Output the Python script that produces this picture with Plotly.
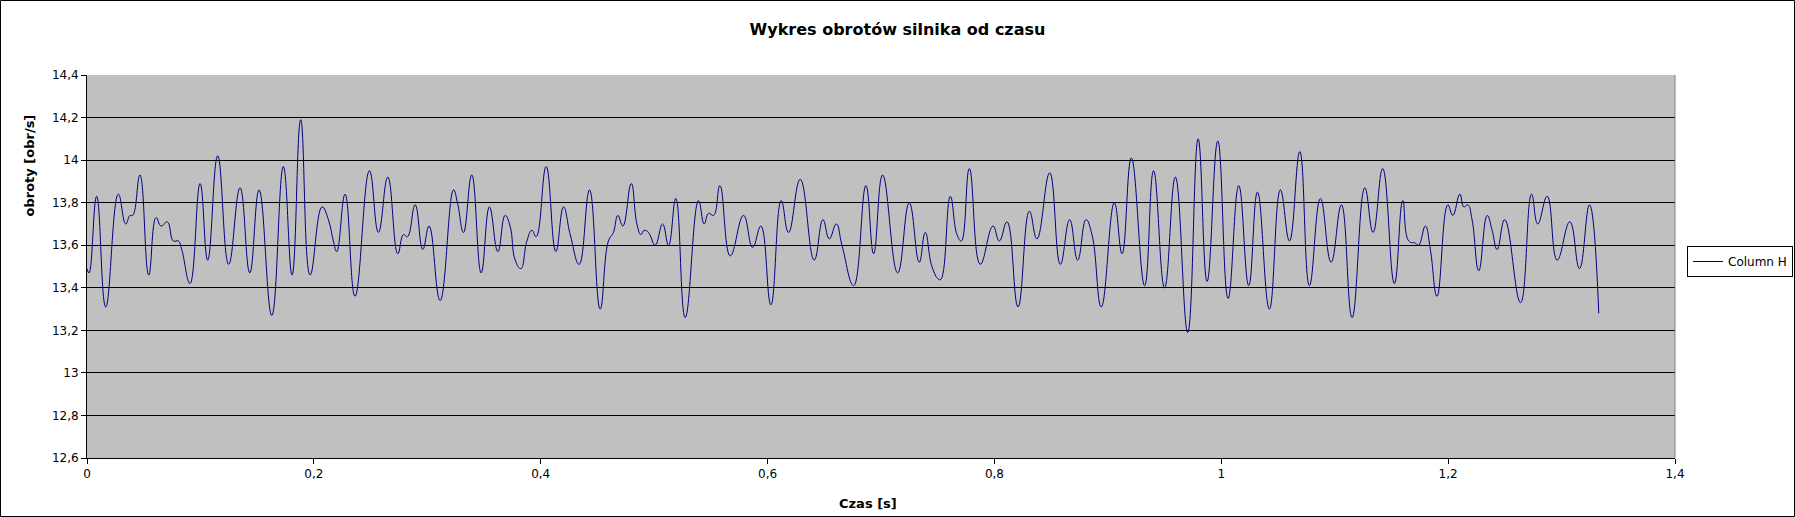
import plotly.graph_objects as go

# Time [s] and speed [obr/s]
czas = [
    0.0000, 0.0018, 0.0085, 0.0165, 0.0276, 0.0341, 0.0379, 0.0403, 0.0467, 0.0544,
    0.0609, 0.0653, 0.0708, 0.0761, 0.0805, 0.0835, 0.0908, 0.0997, 0.1064, 0.1152,
    0.1249, 0.1349, 0.1435, 0.1517, 0.1629, 0.1731, 0.1808, 0.1884, 0.1967, 0.2072,
    0.2128, 0.2172, 0.2202, 0.2275, 0.2363,
    0.2490, 0.2569, 0.2652, 0.2740, 0.2790, 0.2825, 0.2893, 0.2960, 0.3016, 0.3113,
    0.3231, 0.3266, 0.3319, 0.3392, 0.3475, 0.3548, 0.3622, 0.3686, 0.3730, 0.3775,
    0.3825, 0.3878, 0.3922, 0.3960, 0.4048, 0.4133, 0.4201, 0.4260, 0.4339, 0.4430,
    0.4524, 0.4597, 0.4641, 0.4680, 0.4724,
    0.4798, 0.4848, 0.4883, 0.4912, 0.4950, 0.5009, 0.5074, 0.5127, 0.5191, 0.5274,
    0.5391, 0.5441, 0.5480, 0.5524, 0.5580, 0.5671, 0.5788, 0.5868, 0.5941, 0.6029,
    0.6120, 0.6185, 0.6288, 0.6411, 0.6488, 0.6544, 0.6606, 0.6656, 0.6759, 0.6867,
    0.6935, 0.7014, 0.7147,
    0.7249, 0.7337, 0.7390, 0.7449, 0.7508, 0.7529, 0.7611, 0.7670, 0.7708, 0.7779,
    0.7875, 0.7987, 0.8043, 0.8111, 0.8208, 0.8308, 0.8375, 0.8487, 0.8581, 0.8663,
    0.8734, 0.8807, 0.8860, 0.8942, 0.9057, 0.9125, 0.9207, 0.9324, 0.9403, 0.9500,
    0.9595, 0.9704, 0.9796, 0.9875, 0.9969, 1.0060, 1.0154, 1.0242, 1.0319, 1.0424,
    1.0521, 1.0601, 1.0692, 1.0777, 1.0874, 1.0968, 1.1059, 1.1153, 1.1265, 1.1338,
    1.1423, 1.1526, 1.1600, 1.1653, 1.1711, 1.1740, 1.1799, 1.1843, 1.1902,
    1.1997, 1.2041, 1.2103, 1.2138, 1.2173, 1.2211, 1.2270, 1.2344, 1.2388, 1.2432,
    1.2499, 1.2638, 1.2735, 1.2790, 1.2873, 1.2961, 1.3073, 1.3158, 1.3246, 1.3328,
]

obroty = [
    13.49, 13.47, 13.83, 13.31, 13.84, 13.70, 13.74, 13.74, 13.93, 13.46,
    13.73, 13.69, 13.71, 13.62, 13.62, 13.58, 13.42, 13.89, 13.53, 14.02,
    13.51, 13.87, 13.47, 13.86, 13.27, 13.97, 13.46, 14.19, 13.46, 13.78,
    13.72, 13.62, 13.57, 13.84, 13.36,
    13.95, 13.66, 13.92, 13.56, 13.65, 13.64, 13.79, 13.58, 13.69, 13.34,
    13.86, 13.80, 13.66, 13.93, 13.47, 13.78, 13.57, 13.74, 13.69, 13.53,
    13.49, 13.62, 13.67, 13.64, 13.97, 13.57, 13.78, 13.65, 13.51, 13.86,
    13.30, 13.62, 13.66, 13.74, 13.69,
    13.89, 13.70, 13.65, 13.67, 13.66, 13.60, 13.70, 13.60, 13.82, 13.26,
    13.81, 13.70, 13.75, 13.74, 13.88, 13.55, 13.74, 13.59, 13.69, 13.32,
    13.81, 13.66, 13.91, 13.53, 13.72, 13.63, 13.70, 13.60, 13.41, 13.88,
    13.56, 13.93, 13.47,
    13.80, 13.52, 13.66, 13.50, 13.44, 13.44, 13.83, 13.65, 13.62, 13.96,
    13.51, 13.69, 13.62, 13.71, 13.31, 13.76, 13.63, 13.94, 13.51, 13.72,
    13.53, 13.72, 13.65, 13.31, 13.80, 13.56, 14.01, 13.41, 13.95, 13.40,
    13.92, 13.19, 14.10, 13.43, 14.09, 13.35, 13.88, 13.41, 13.85, 13.30,
    13.86, 13.62, 14.04, 13.41, 13.82, 13.52, 13.79, 13.26, 13.87, 13.66,
    13.96, 13.42, 13.81, 13.62, 13.61, 13.60, 13.69, 13.58, 13.36,
    13.79, 13.74, 13.84, 13.78, 13.79, 13.72, 13.48, 13.74, 13.67, 13.58,
    13.72, 13.33, 13.84, 13.70, 13.83, 13.53, 13.71, 13.49, 13.79, 13.28,
]

W, H = 1795, 517
L, R, T, B = 87, 120, 75, 59
PW, PH = W - L - R, H - T - B
FONT = "DejaVu Sans"

fig = go.Figure()
fig.add_trace(go.Scatter(
    x=czas, y=obroty, mode="lines", name="Column H",
    line=dict(color="#000080", width=1, shape="spline", smoothing=1.3),
))

fig.update_layout(
    width=W, height=H,
    margin=dict(l=L, r=R, t=T, b=B, autoexpand=False),
    paper_bgcolor="white", plot_bgcolor="#C0C0C0",
    separators=", ",
    font=dict(family=FONT, size=12, color="black"),
    title=dict(text="<b>Wykres obrotów silnika od czasu</b>", x=0.5, xref="container",
               xanchor="center", y=1 - 29 / H, yref="container", yanchor="middle",
               font=dict(family=FONT, size=16, color="black")),
    showlegend=True,
    legend=dict(x=(1687 - L) / PW, xanchor="left", y=(H - B - 261.5) / PH, yanchor="middle",
                bgcolor="white", bordercolor="black", borderwidth=1,
                font=dict(family=FONT, size=12, color="black")),
    xaxis=dict(range=[0, 1.4], dtick=0.2, tick0=0, showgrid=False, zeroline=False,
               showline=True, linecolor="black", linewidth=1,
               ticks="outside", ticklen=5, tickcolor="black",
               tickfont=dict(family=FONT, size=12, color="black")),
    yaxis=dict(range=[12.6, 14.4], dtick=0.2, tick0=12.6, showgrid=True,
               gridcolor="black", gridwidth=1, zeroline=False,
               showline=True, linecolor="black", linewidth=1,
               ticks="outside", ticklen=5, tickcolor="black",
               tickfont=dict(family=FONT, size=12, color="black")),
    annotations=[
        dict(text="<b>Czas [s]</b>", xref="paper", yref="paper",
             x=(868 - L) / PW, y=-(503 - (H - B)) / PH, xanchor="center", yanchor="middle",
             showarrow=False, font=dict(family=FONT, size=13, color="black")),
        dict(text="<b>obroty [obr/s]</b>", xref="paper", yref="paper",
             x=-(L - 29) / PW, y=(H - B - 165.5) / PH, xanchor="center", yanchor="middle",
             textangle=-90, showarrow=False,
             font=dict(family=FONT, size=13, color="black")),
    ],
    shapes=[
        dict(type="line", xref="paper", yref="paper", x0=1, x1=1, y0=0, y1=1,
             line=dict(color="#808080", width=1)),
        dict(type="rect", xref="paper", yref="paper",
             x0=-(L - 0.5) / PW, x1=(W - L - 0.5) / PW,
             y0=-(B - 0.5) / PH, y1=(H - 0.5 - B) / PH,
             line=dict(color="black", width=1), fillcolor="rgba(0,0,0,0)"),
    ],
)

fig.write_html(
    "out.html",
    config={"displayModeBar": False},
    post_script="document.body.style.margin='0';document.body.style.overflow='hidden';",
)
